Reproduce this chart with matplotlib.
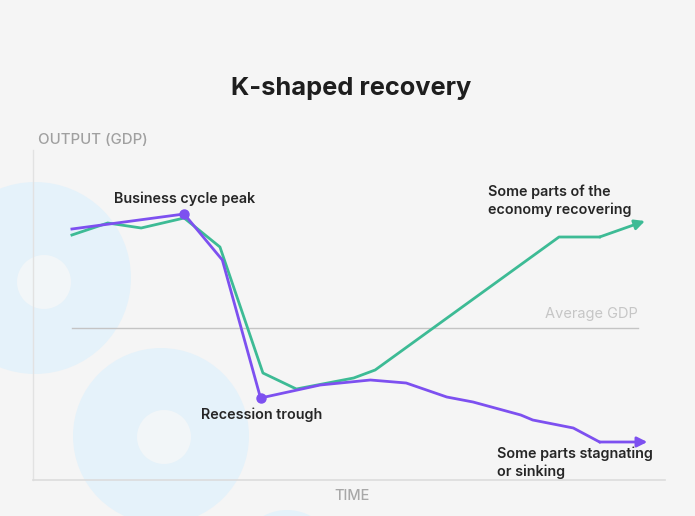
import matplotlib
matplotlib.use("Agg")
import matplotlib.pyplot as plt
from matplotlib.patches import Circle

# ---- data (time in months, output index where 100 = average GDP) ----
green_t = [0, 1.5, 2.9, 4.7, 6.2, 8.0, 9.4, 11.8, 12.7, 20.4, 22.1, 24.0]
green_y = [109.3, 110.5, 110.0, 111.0, 108.1, 95.5, 93.9, 95.0, 95.8, 109.1, 109.1, 110.7]

purple_t = [0, 4.7, 6.3, 7.9, 10.4, 12.5, 14.0, 15.7, 16.8, 18.8, 19.3, 21.0, 22.1, 24.1]
purple_y = [109.9, 111.4, 106.8, 93.0, 94.3, 94.8, 94.5, 93.1, 92.6, 91.3, 90.8, 90.0, 88.6, 88.6]

peak_idx = 1
trough_idx = 3
average_gdp = 100.0
avg_t = [0, 23.7]

GREEN = "#3dbb95"
PURPLE = "#7d50f0"
BG = "#f5f5f5"

plt.rcParams['font.family'] = ['Inter', 'DejaVu Sans']

W, H = 695, 516
fig = plt.figure(figsize=(W / 100, H / 100), dpi=100, facecolor=BG)

# decorative background (pixel coordinates, drawn behind everything)
bg = fig.add_axes([0, 0, 1, 1], zorder=-10)
bg.set_xlim(0, W)
bg.set_ylim(H, 0)
bg.set_aspect('equal', adjustable='box')
bg.axis('off')
ring = "#e5f2fa"
hole = "#f2f6f8"
for (cx, cy, r, c) in [(35, 278, 96, ring), (44, 282, 27, hole),
                       (161, 436, 88, ring), (164, 437, 27, hole),
                       (287, 560, 50, ring)]:
    bg.add_patch(Circle((cx, cy), r, facecolor=c, edgecolor='none'))

ax = fig.add_axes([33 / W, 1 - 480 / H, (665 - 33) / W, (480 - 150) / H], zorder=1)
ax.patch.set_visible(False)
ax.set_xlim(-1.63, 24.84)
ax.set_ylim(84.8, 117.8)

for s in ['top', 'right']:
    ax.spines[s].set_visible(False)
ax.spines['left'].set_color('#e2e2e2')
ax.spines['bottom'].set_color('#dcdcdc')
ax.spines['left'].set_linewidth(1.0)
ax.spines['bottom'].set_linewidth(1.2)
ax.set_xticks([])
ax.set_yticks([])

# average line
ax.plot(avg_t, [average_gdp, average_gdp], color='#c4c4c4', lw=1.0, zorder=1)
ax.text(avg_t[1], average_gdp + 0.7, "Average GDP", color='#c6c6c6', fontsize=10.5,
        ha='right', va='bottom')

lw = 2.0
ax.plot(green_t[:-1], green_y[:-1], color=GREEN, lw=lw, solid_joinstyle='round', zorder=3)
ax.annotate('', xy=(green_t[-1], green_y[-1]), xytext=(green_t[-2], green_y[-2]),
            arrowprops=dict(arrowstyle='-|>,head_length=0.6,head_width=0.3', color=GREEN,
                            lw=lw, shrinkA=0, shrinkB=0), zorder=3)

ax.plot(purple_t[:-1], purple_y[:-1], color=PURPLE, lw=lw, solid_joinstyle='round', zorder=4)
ax.annotate('', xy=(purple_t[-1], purple_y[-1]), xytext=(purple_t[-2], purple_y[-2]),
            arrowprops=dict(arrowstyle='-|>,head_length=0.6,head_width=0.3', color=PURPLE,
                            lw=lw, shrinkA=0, shrinkB=0), zorder=4)

ax.plot([purple_t[peak_idx], purple_t[trough_idx]], [purple_y[peak_idx], purple_y[trough_idx]],
        'o', color=PURPLE, ms=6.5, zorder=5, linestyle='none')

txt_color = '#262626'
fs = 10.3
fw = 'semibold'
ax.annotate("Business cycle peak", xy=(purple_t[peak_idx], purple_y[peak_idx]),
            xytext=(0, 6), textcoords='offset points', ha='center', va='bottom',
            fontsize=fs, color=txt_color, fontweight=fw)
ax.annotate("Recession trough", xy=(purple_t[trough_idx], purple_y[trough_idx]),
            xytext=(1, -7), textcoords='offset points', ha='center', va='top',
            fontsize=fs, color=txt_color, fontweight=fw)
ax.annotate("Some parts of the\neconomy recovering", xy=(green_t[-1], green_y[-1]),
            xytext=(-113, 3), textcoords='offset points', ha='left', va='bottom',
            fontsize=fs, color=txt_color, fontweight=fw, linespacing=1.3)
ax.annotate("Some parts stagnating\nor sinking", xy=(purple_t[-1], purple_y[-1]),
            xytext=(-108, -3), textcoords='offset points', ha='left', va='top',
            fontsize=fs, color=txt_color, fontweight=fw, linespacing=1.3)

fig.text(38 / W, 1 - 140 / H, "OUTPUT (GDP)", color='#a0a0a0', fontsize=10.8,
         ha='left', va='center', fontweight='medium')
fig.text(352 / W, 1 - 496 / H, "TIME", color='#a8a8a8', fontsize=10.5,
         ha='center', va='center', fontweight='medium')
fig.text(351 / W, 1 - 88 / H, "K-shaped recovery", color='#1e1e1e', fontsize=18.3,
         ha='center', va='center', fontweight='bold')

fig.savefig("out.png", dpi=100, facecolor=BG)
